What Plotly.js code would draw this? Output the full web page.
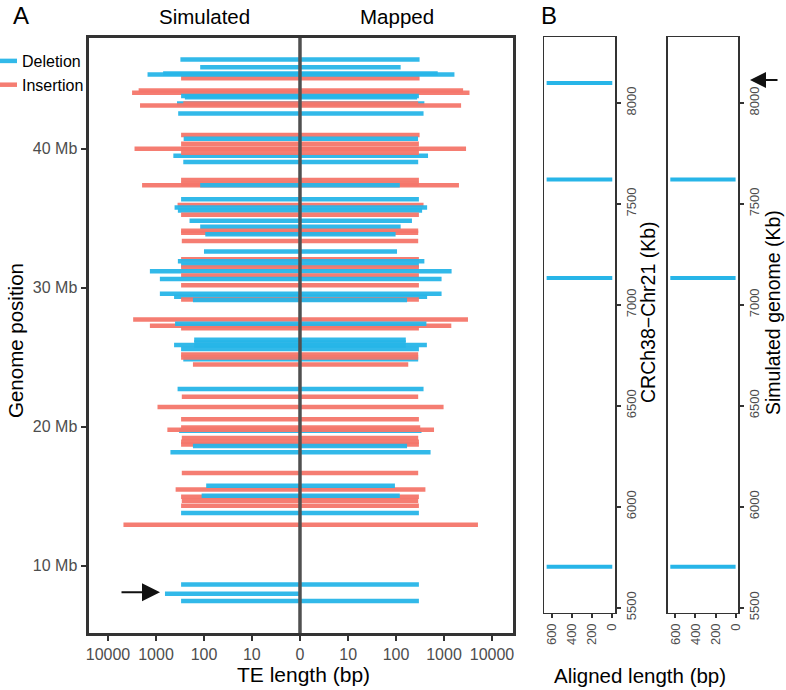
<!DOCTYPE html>
<html>
<head>
<meta charset="utf-8">
<script src="https://cdn.plot.ly/plotly-3.0.1.min.js"></script>
<style>html,body{margin:0;padding:0;background:#fff;}#chart{width:786px;height:690px;}</style>
</head>
<body>
<div id="chart"></div>
<script>
// ---------- Panel A data (genome position in Mb, TE type, simulated length, mapped length in bp) ----------
const tePos = [46.41,45.86,45.06,45.40,45.33,44.19,44.03,43.78,43.70,43.25,43.25,43.10,42.53,
  40.99,40.72,39.49,40.36,40.00,40.00,39.70,39.04,
  37.75,37.45,37.37,37.37,
  36.36,35.95,35.76,35.55,35.25,34.82,34.38,34.10,33.95,33.85,33.35,32.60,32.05,31.90,31.61,31.45,31.18,30.87,30.62,30.17,29.57,29.35,29.15,29.12,
  27.71,27.27,27.40,27.08,
  26.26,26.05,25.83,25.88,25.59,24.86,25.20,24.98,24.48,
  22.72,22.16,21.42,20.53,19.70,19.94,19.78,19.18,18.92,18.72,18.62,18.16,
  16.67,15.49,15.76,14.96,14.67,14.31,15.03,13.80,12.94,
  8.64,7.99,7.46];
const teType = ['D','D','I','D','D','I','I','D','D','D','I','I','D',
  'I','D','D','I','I','I','I','D',
  'I','I','I','D',
  'D','I','D','D','I','D','D','I','I','D','I','D','I','D','D','I','D','I','D','I','D','D','I','D',
  'I','I','D','I',
  'D','D','D','D','D','D','I','I','I',
  'D','I','I','I','D','I','I','I','I','I','D','D',
  'I','I','D','I','I','I','D','D','I',
  'D','D','D'];
const teSim = [310,120,300,710,1500,2300,3150,300,250,365,270,2150,345,
  300,265,435,300,300,2800,300,270,
  300,300,1950,120,
  300,355,410,350,300,200,120,300,300,94,290,100,300,350,300,300,1340,300,830,300,830,420,300,170,
  2990,1340,400,300,
  160,160,160,420,300,270,300,300,170,
  355,290,930,300,330,300,580,290,300,300,170,500,
  290,390,90,300,290,300,112,300,4760,
  300,650,300];
const teMap = [310,125,310,740,1650,2500,3400,300,275,390,290,2270,375,
  310,288,465,300,300,2880,300,290,
  300,300,2050,120,
  300,375,445,350,300,215,125,290,290,98,290,105,300,390,300,300,1440,300,890,300,890,445,300,170,
  3160,1420,430,300,
  160,160,160,440,300,290,290,290,180,
  375,290,980,300,340,320,620,290,300,300,170,525,
  290,410,95,300,290,300,120,300,5100,
  300,0,300];
const typeNames = {D:'Deletion', I:'Insertion'};
const typeColors = {D:'#27B5E8', I:'#F4766A'};

// x-axis tick labels of panel A (signed: left = simulated, right = mapped)
const aTickVals = [-10000,-1000,-100,-10,0,10,100,1000,10000];
const aYTicks = [10,20,30,40];

// ---------- Panel B data (position in Kb, aligned length in bp) ----------
const bRefPos = [8099,7621,7133,5702];
const bRefLen = [650,650,650,650];
const bSimPos = [7621,7133,5702];
const bSimLen = [650,650,650];
const bYTicks = [5500,6000,6500,7000,7500,8000];
const bXTicks = [0,200,400,600];

// pseudo-log transform (sigma = 1, base 10)
function plog(v){ const s = v < 0 ? -1 : 1; return s*Math.asinh(Math.abs(v)/2)/Math.LN10; }

const W = 786, H = 690;
const px = x => x / W;
const py = y => 1 - y / H;

const traces = [];
const seen = {};
for (let i = 0; i < tePos.length; i++) {
  const t = teType[i];
  traces.push({
    type:'scatter', mode:'lines', xaxis:'x', yaxis:'y',
    x:[-plog(teSim[i]), plog(teMap[i])], y:[tePos[i], tePos[i]],
    line:{color:typeColors[t], width:4.5},
    opacity:0.95,
    name:typeNames[t], legendgroup:t, showlegend:!seen[t], hoverinfo:'skip'
  });
  seen[t] = true;
}
function segs(pos, len){
  const x = [], y = [];
  for (let i = 0; i < pos.length; i++){ x.push(0, len[i], null); y.push(pos[i], pos[i], null); }
  return {x, y};
}
const s1 = segs(bRefPos, bRefLen), s2 = segs(bSimPos, bSimLen);
traces.push({type:'scatter', mode:'lines', xaxis:'x2', yaxis:'y2', x:s1.x, y:s1.y,
  line:{color:typeColors.D, width:4}, showlegend:false, hoverinfo:'skip'});
traces.push({type:'scatter', mode:'lines', xaxis:'x3', yaxis:'y3', x:s2.x, y:s2.y,
  line:{color:typeColors.D, width:4}, showlegend:false, hoverinfo:'skip'});

const tickGray = '#4d4d4d', axisDark = '#333333';
const FONT = 'Liberation Sans, Arial, Helvetica, sans-serif';
const bAxisCommon = {
  showgrid:false, zeroline:false, showline:true, mirror:true, linewidth:1.5, linecolor:axisDark,
  ticks:'outside', ticklen:4, tickwidth:2, tickcolor:axisDark, tickangle:-90,
  tickfont:{size:13, color:tickGray, family:FONT}
};
const bYDomain = [py(612.7), py(37.3)];

const layout = {
  width:W, height:H, margin:{l:0, r:0, t:0, b:0, autoexpand:false},
  paper_bgcolor:'#ffffff', plot_bgcolor:'#ffffff',
  font:{family:FONT, color:'#000'},
  showlegend:true,
  legend:{x:px(-18), xanchor:'left', y:py(44), yanchor:'top', bgcolor:'rgba(0,0,0,0)',
    font:{size:16, color:'#000', family:FONT}, itemwidth:30, tracegroupgap:0, traceorder:'grouped'},
  xaxis:{domain:[px(88.5), px(513)], range:[-4.406, 4.4375], anchor:'y',
    tickvals:aTickVals.map(plog), ticktext:aTickVals.map(v => String(Math.abs(v))),
    showgrid:false, zeroline:false, showline:true, mirror:true, linewidth:3, linecolor:axisDark,
    ticks:'outside', ticklen:5, tickwidth:2, tickcolor:axisDark,
    tickfont:{size:16, color:tickGray, family:FONT}},
  yaxis:{domain:[py(633), py(38)], range:[5.16, 47.96], anchor:'x',
    tickvals:aYTicks, ticktext:aYTicks.map(v => v + ' Mb'),
    showgrid:false, zeroline:false, showline:true, mirror:true, linewidth:3, linecolor:axisDark,
    ticks:'outside', ticklen:5, tickwidth:2, tickcolor:axisDark,
    tickfont:{size:16, color:tickGray, family:FONT}},
  xaxis2:Object.assign({domain:[px(544), px(615)], range:[676, -27], anchor:'y2', tickvals:bXTicks}, bAxisCommon),
  yaxis2:Object.assign({domain:bYDomain, range:[5475, 8325], anchor:'x2', side:'right', tickvals:bYTicks}, bAxisCommon),
  xaxis3:Object.assign({domain:[px(667.7), px(738.3)], range:[676, -27], anchor:'y3', tickvals:bXTicks}, bAxisCommon),
  yaxis3:Object.assign({domain:bYDomain, range:[5475, 8325], anchor:'x3', side:'right', tickvals:bYTicks}, bAxisCommon),
  shapes:[{type:'line', xref:'x', yref:'y domain', x0:0, x1:0, y0:0, y1:1, layer:'above',
    line:{color:'#505050', width:3.5}}],
  annotations:[
    {text:'A', x:px(21), y:py(15.5), font:{size:24}},
    {text:'B', x:px(548.5), y:py(15.5), font:{size:24}},
    {text:'Simulated', x:px(204), y:py(16), font:{size:20.5}},
    {text:'Mapped', x:px(397), y:py(16), font:{size:20.5}},
    {text:'Genome position', x:px(15), y:py(341), textangle:-90, font:{size:20.5}},
    {text:'TE length (bp)', x:px(303), y:py(674), font:{size:21}},
    {text:'Aligned length (bp)', x:px(640), y:py(675), font:{size:20.5}},
    {text:'CRCh38\u2212Chr21 (Kb)', x:px(648), y:py(312), textangle:-90, font:{size:19.5}},
    {text:'Simulated genome (Kb)', x:px(773), y:py(313), textangle:-90, font:{size:19.5}},
    {text:'', x:px(160), y:py(592.3), ax:-40, ay:0, showarrow:true, arrowhead:2, arrowsize:1.8, arrowwidth:2, arrowcolor:'#111'},
    {text:'', x:px(750), y:py(80), ax:29, ay:0, showarrow:true, arrowhead:2, arrowsize:1.6, arrowwidth:2, arrowcolor:'#111'}
  ].map(a => Object.assign({xref:'paper', yref:'paper', xanchor:'center', yanchor:'middle', showarrow:false}, a,
      {font:Object.assign({family:FONT, color:'#000'}, a.font || {})}))
};

Plotly.newPlot('chart', traces, layout, {staticPlot:true, displayModeBar:false});
</script>
</body>
</html>
